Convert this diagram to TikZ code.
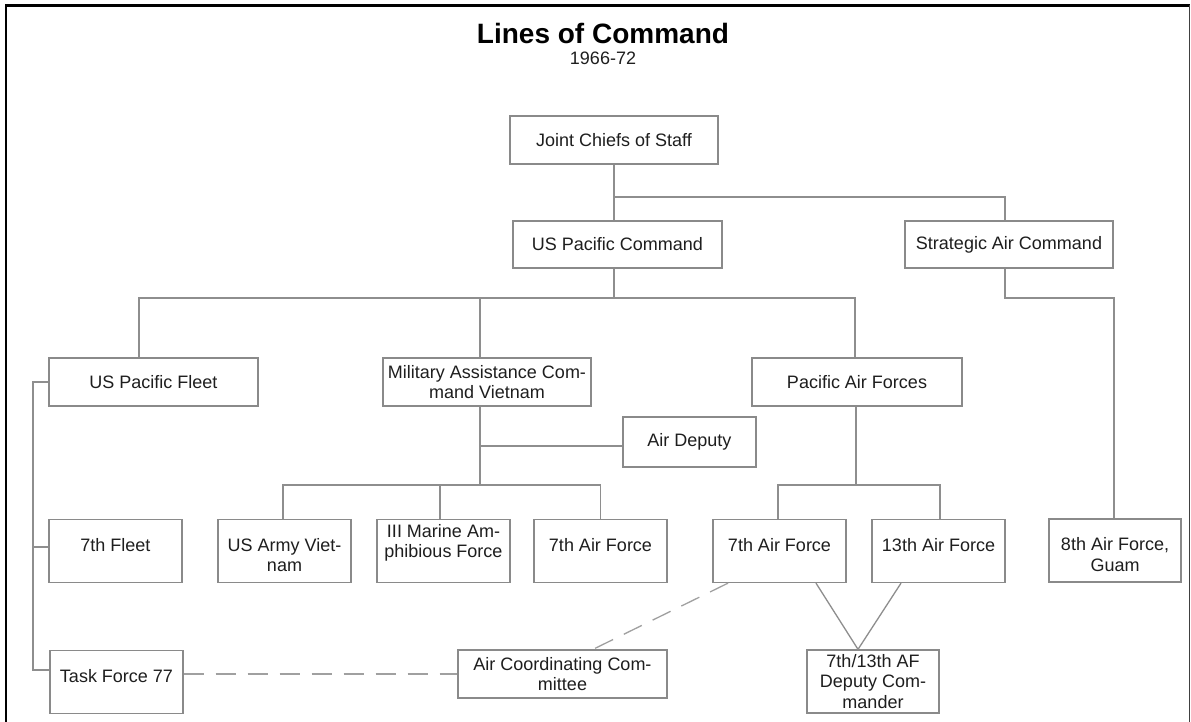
\documentclass[tikz,border=0pt]{standalone}
\usepackage{fontspec}
\setmainfont{Liberation Sans}
\definecolor{bgray}{HTML}{8A8A8A}
\definecolor{lgray}{HTML}{8E8E8E}
\definecolor{dgray}{HTML}{A0A0A0}
\definecolor{tcol}{HTML}{1E1E1E}
\newcommand{\tr}{\rule{0pt}{21pt}}
\begin{document}
\begin{tikzpicture}[x=1pt,y=-1pt,
  box/.style={draw=bgray, line width=1.3pt, inner sep=0pt, align=center, text=tcol, font=\fontsize{18}{20.5}\selectfont},
  wide/.style={box, minimum width=208pt, minimum height=48pt},
  small/.style={box, minimum width=133pt, minimum height=49pt},
  tall/.style={box, minimum width=133pt, minimum height=63pt},
  link/.style={draw=lgray, line width=1.3pt},
  dlink/.style={draw=dgray, line width=1.3pt, dash pattern=on 20pt off 12pt}]
\useasboundingbox (0,0) rectangle (1191,722);
\fill[white] (0,0) rectangle (1191,722);
% frame
\draw[black, line width=2.6pt] (6,722) -- (6,5.5) -- (1189.5,5.5);
\draw[black!75, line width=1.4pt] (1189.5,5.5) -- (1189.5,722);
% title
\node[anchor=base, text=black, font=\fontsize{28}{30}\selectfont\bfseries] (title) at (603,44) {Lines of Command};
\node[anchor=base, text=tcol, font=\fontsize{18}{20}\selectfont] (years) at (603,65) {1966-72};
% nodes
\node[wide] (jcs) at (614,140) {Joint Chiefs of Staff};
\node[wide, minimum height=47pt, minimum width=209pt] (pacom) at (617.5,244.5) {US Pacific Command};
\node[wide, minimum height=47pt] (sac) at (1009,244.5) {Strategic Air Command};
\node[wide, minimum width=209pt] (pacflt) at (153.5,382) {US Pacific Fleet};
\node[wide] (macv) at (487,382) {Military Assistance Com-\\mand Vietnam};
\node[wide, minimum width=210pt] (pacaf) at (857,382) {Pacific Air Forces};
\node[small, minimum height=50pt] (airdep) at (689.5,442) {Air Deputy};
\node[tall] (fleet7) at (115.5,551) {\tr 7th Fleet\\\mbox{}};
\node[tall] (tf77) at (116.5,682) {\tr Task Force 77\\\mbox{}};
\node[tall] (usav) at (284.5,551) {\tr US Army Viet-\\nam};
\node[tall] (iiimaf) at (443.5,551) {III Marine Am-\\phibious Force\\\mbox{}};
\node[tall] (af7m) at (600.5,551) {\tr 7th Air Force\\\mbox{}};
\node[tall] (af7) at (779.5,551) {\tr 7th Air Force\\\mbox{}};
\node[tall] (af13) at (938.5,551) {\tr 13th Air Force\\\mbox{}};
\node[tall, minimum width=132pt] (af8) at (1115,550.5) {\tr 8th Air Force,\\Guam};
\node[tall, minimum width=132pt] (dep) at (873,681.5) {7th/13th AF\\Deputy Com-\\mander};
\node[wide, minimum width=209pt] (acc) at (562.5,674) {Air Coordinating Com-\\mittee};
% junctions
\coordinate (b1) at (614,197);
\coordinate (b2) at (614,298);
\coordinate (b3) at (1114,298);
\coordinate (b4) at (480,485);
\coordinate (b5) at (856,485);
\coordinate (lbx) at (33,0);
% connectors
\draw[link] (jcs.south) -- (b1);
\draw[link] ([xshift=-3.5pt]pacom.north) |- (b1) -| ([xshift=-4pt]sac.north);
\draw[link] ([xshift=-3.5pt]pacom.south) -- (b2);
\draw[link] ([xshift=-14.5pt]pacflt.north) |- (b2) -| ([xshift=-2pt]pacaf.north);
\draw[link] ([xshift=-7pt]macv.north) -- ([xshift=-7pt]macv.north |- b2);
\draw[link] ([xshift=-4pt]sac.south) |- (b3) -- (af8.north -| b3);
\draw[link] (pacflt.west) -- (pacflt.west -| lbx) |- ([yshift=12pt]tf77.west);
\draw[link] ([yshift=4pt]fleet7.west) -- ([yshift=4pt]fleet7.west -| lbx);
\draw[link] ([xshift=-7pt]macv.south) -- (b4);
\draw[link] ([yshift=-4pt]airdep.west) -- ([yshift=-4pt]airdep.west -| b4);
\draw[link] ([xshift=-1.5pt]usav.north) |- (b4) -| (af7m.north);
\draw[link] ([xshift=-3.5pt]iiimaf.north) -- ([xshift=-3.5pt]iiimaf.north |- b4);
\draw[link] ([xshift=-1pt]pacaf.south) -- (b5);
\draw[link] ([xshift=-1.5pt]af7.north) |- (b5) -| ([xshift=1.5pt]af13.north);
\draw[link] ([xshift=36.5pt]af7.south) -- ([xshift=-15pt]dep.north) -- ([xshift=-37.5pt]af13.south);
\draw[dlink] ([xshift=-51.5pt]af7.south) -- ([xshift=30.5pt]acc.north);
\draw[dlink] (tf77.east |- acc.west) -- (acc.west);
\end{tikzpicture}
\end{document}
